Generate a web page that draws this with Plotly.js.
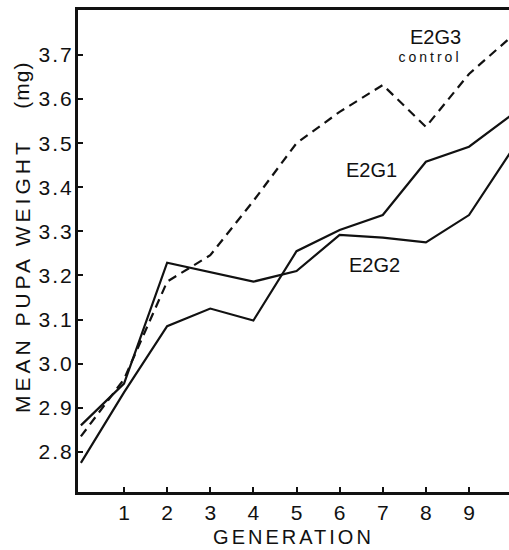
<!DOCTYPE html>
<html>
<head>
<meta charset="utf-8">
<script src="https://cdn.plot.ly/plotly-3.0.1.min.js"></script>
<style>
  html, body { margin: 0; padding: 0; background: #fff; }
  #chart { width: 509px; height: 550px; }
  .xtitle { letter-spacing: 3px; }
  .ytick text { letter-spacing: 2px; }
  .annotation[data-index="1"] text { letter-spacing: 3px; }
  .annotation[data-index="4"] text { letter-spacing: 4px; }
  .annotation[data-index="5"] text { letter-spacing: 1px; }
</style>
</head>
<body>
<div id="chart"></div>
<script>
// Generations (x values)
const generations = [0, 1, 2, 3, 4, 5, 6, 7, 8, 9, 10];

// Mean pupa weight (mg) per line
const e2g1 = [2.775, 2.935, 3.085, 3.125, 3.098, 3.255, 3.303, 3.337, 3.458, 3.492, 3.565];
const e2g2 = [2.860, 2.955, 3.229, 3.208, 3.186, 3.210, 3.292, 3.286, 3.275, 3.337, 3.485];
const e2g3 = [2.835, 2.965, 3.186, 3.246, 3.369, 3.500, 3.571, 3.632, 3.537, 3.657, 3.743];

// Tick labels
const xTickVals = [1, 2, 3, 4, 5, 6, 7, 8, 9];
const xTickText = ["1", "2", "3", "4", "5", "6", "7", "8", "9"];
const yTickVals = [2.8, 2.9, 3.0, 3.1, 3.2, 3.3, 3.4, 3.5, 3.6, 3.7];
const yTickText = ["2.8", "2.9", "3.0", "3.1", "3.2", "3.3", "3.4", "3.5", "3.6", "3.7"];

const FONT = "Liberation Sans, Arial, Helvetica, sans-serif";

const traces = [
  { x: generations, y: e2g1, name: "E2G1", type: "scatter", mode: "lines",
    line: { color: "#111", width: 2.2 } },
  { x: generations, y: e2g2, name: "E2G2", type: "scatter", mode: "lines",
    line: { color: "#111", width: 2.2 } },
  { x: generations, y: e2g3, name: "E2G3 control", type: "scatter", mode: "lines",
    line: { color: "#111", width: 2.2, dash: "9px,6px" } }
];

const layout = {
  width: 509, height: 550,
  margin: { l: 78, r: 0, t: 10, b: 58 },
  paper_bgcolor: "#fff", plot_bgcolor: "#fff",
  showlegend: false,
  font: { family: FONT, color: "#111" },
  xaxis: {
    range: [-0.067, 9.927],
    tickmode: "array", tickvals: xTickVals, ticktext: xTickText,
    ticks: "inside", ticklen: 5, tickwidth: 2, tickcolor: "#111",
    showline: true, linewidth: 3, linecolor: "#111", mirror: true,
    showgrid: false, zeroline: false,
    tickfont: { family: FONT, size: 21, color: "#111" },
    title: { text: "GENERATION", font: { family: FONT, size: 20, color: "#111" }, standoff: 7 }
  },
  yaxis: {
    range: [2.709, 3.802],
    tickmode: "array", tickvals: yTickVals, ticktext: yTickText,
    ticks: "inside", ticklen: 5, tickwidth: 2, tickcolor: "#111",
    showline: true, linewidth: 3, linecolor: "#111", mirror: false,
    showgrid: false, zeroline: false, ticklabelstandoff: -3,
    tickfont: { family: FONT, size: 21, color: "#111" }
  },
  annotations: [
    { x: 8.234, y: 3.740, xref: "x", yref: "y", text: "E2G3", showarrow: false,
      font: { family: FONT, size: 20, color: "#111" } },
    { x: 8.095, y: 3.695, xref: "x", yref: "y", text: "control", showarrow: false,
      font: { family: FONT, size: 14, color: "#111" } },
    { x: 6.739, y: 3.440, xref: "x", yref: "y", text: "E2G1", showarrow: false,
      font: { family: FONT, size: 20, color: "#111" } },
    { x: 6.797, y: 3.224, xref: "x", yref: "y", text: "E2G2", showarrow: false,
      font: { family: FONT, size: 20, color: "#111" } },
    { x: -0.13, y: 0.450, xref: "paper", yref: "paper", text: "MEAN PUPA WEIGHT",
      textangle: -90, showarrow: false, xanchor: "center", yanchor: "middle",
      font: { family: FONT, size: 21, color: "#111" } },
    { x: -0.13, y: 0.845, xref: "paper", yref: "paper", text: "(mg)",
      textangle: -90, showarrow: false, xanchor: "center", yanchor: "middle",
      font: { family: FONT, size: 21, color: "#111" } }
  ]
};

Plotly.newPlot("chart", traces, layout, { staticPlot: true, displayModeBar: false });
</script>
</body>
</html>
